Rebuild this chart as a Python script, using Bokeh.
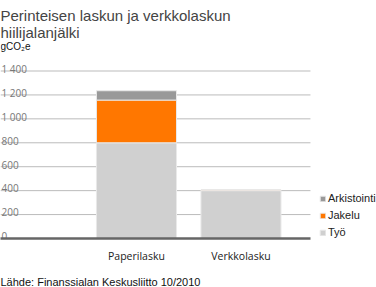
from bokeh.plotting import figure
from bokeh.models import FixedTicker, Legend, LegendItem, Title, ColumnDataSource, Range1d, Label
from bokeh.embed import file_html
from bokeh.resources import INLINE
from bokeh.core.properties import value

title_lines = ["Perinteisen laskun ja verkkolaskun", "hiilijalanjälki"]
unit_label = "gCO₂e"
source_text = "Lähde: Finanssialan Keskusliitto 10/2010"
categories = ["Paperilasku", "Verkkolasku"]
tyo = [800, 400]
jakelu = [357, 7]
arkistointi = [78, 0]
series_keys = ["tyo", "jakelu", "arkistointi"]
series_names = ["Työ", "Jakelu", "Arkistointi"]
colors = ["#d0d0d0", "#ff7700", "#999999"]
y_ticks = [0, 200, 400, 600, 800, 1000, 1200, 1400]
y_tick_labels = ["0", "200", "400", "600", "800", "1 000", "1 200", "1 400"]

# layout (pixels)
FRAME_BOTTOM = 238.0
TOP_TICK_PX = 70.5
PX_PER_UNIT = (FRAME_BOTTOM - TOP_TICK_PX) / y_ticks[-1]
Y_END = FRAME_BOTTOM / PX_PER_UNIT


def px_to_y(py):
    return (FRAME_BOTTOM - py) / PX_PER_UNIT


X_START, X_END, X_PLOT_END = -0.3014, 3.297, 2.665

xpos = list(range(1, len(categories) + 1))
src = ColumnDataSource(dict(x=xpos, cat=categories, tyo=tyo, jakelu=jakelu, arkistointi=arkistointi))

p = figure(width=376, height=287, output_backend="svg", toolbar_location=None, title=None,
           x_range=Range1d(X_START, X_END), y_range=Range1d(0, Y_END),
           min_border_left=0, min_border_right=0, min_border_top=0, min_border_bottom=0,
           background_fill_color="white", border_fill_color="white")

renderers = p.vbar_stack(series_keys, x="x", width=0.766, color=colors, source=src,
                         line_color="#e9e9e9", line_width=1)

# grid lines (ending before the legend area)
grid_src = ColumnDataSource(dict(y=y_ticks[1:], x0=[X_START] * (len(y_ticks) - 1),
                                 x1=[X_PLOT_END] * (len(y_ticks) - 1)))
p.segment(x0="x0", y0="y", x1="x1", y1="y", source=grid_src, line_color="#bbbbbb",
          line_width=1, level="underlay")

# y tick labels drawn above grid lines
tick_src = ColumnDataSource(dict(y=y_ticks, text=y_tick_labels, x=[X_START] * len(y_ticks)))
p.text(x="x", y="y", text="text", source=tick_src, text_align="left",
       text_baseline="alphabetic", x_offset=1, y_offset=-2.2,
       text_font=value("Open Sans"), text_font_size="10px", text_color="#777777")

p.yaxis.visible = False
p.grid.visible = False
p.outline_line_color = None

p.xaxis.ticker = FixedTicker(ticks=xpos)
p.xaxis.bounds = (X_START, X_PLOT_END)
p.xaxis.major_label_overrides = {x: c for x, c in zip(xpos, categories)}
p.xaxis.axis_line_color = "#666666"
p.xaxis.axis_line_width = 2.5
p.xaxis.major_tick_line_color = None
p.xaxis.minor_tick_line_color = None
p.xaxis.major_tick_out = 0
p.xaxis.major_tick_in = 0
p.xaxis.minor_tick_out = 0
p.xaxis.major_label_standoff = 10
p.xaxis.major_label_text_font = "Open Sans"
p.xaxis.major_label_text_font_size = "10.5px"
p.xaxis.major_label_text_color = "#222222"

# title and unit
for line, py in zip(title_lines, [15, 32]):
    p.add_layout(Label(x=X_START, y=px_to_y(py), text=line, text_font="Liberation Sans",
                       text_font_size="15px", text_color="#444444",
                       text_baseline="alphabetic", text_align="left"))
p.add_layout(Label(x=X_START, y=px_to_y(45.5), text=unit_label, text_font="Liberation Sans",
                   text_font_size="10px", text_color="#111111",
                   text_baseline="alphabetic", text_align="left"))

# spacer, then source line at the bottom
p.add_layout(Title(text=" ", text_font_size="6px", standoff=0), "below")
p.add_layout(Title(text=source_text, align="left", text_font="Liberation Sans",
                   text_font_size="11px", text_font_style="normal", text_color="#111111",
                   standoff=0), "below")

items = [LegendItem(label=n, renderers=[r]) for n, r in zip(series_names, renderers)][::-1]
legend = Legend(items=items, location=(319, 0), glyph_width=7, glyph_height=7,
                label_text_font="Liberation Sans", label_text_font_size="11px",
                label_text_color="#222222", label_standoff=2, spacing=5, padding=0,
                margin=0, border_line_color=None, background_fill_alpha=0,
                label_height=10)
p.add_layout(legend)

open("out.html", "w").write(file_html(p, INLINE))
